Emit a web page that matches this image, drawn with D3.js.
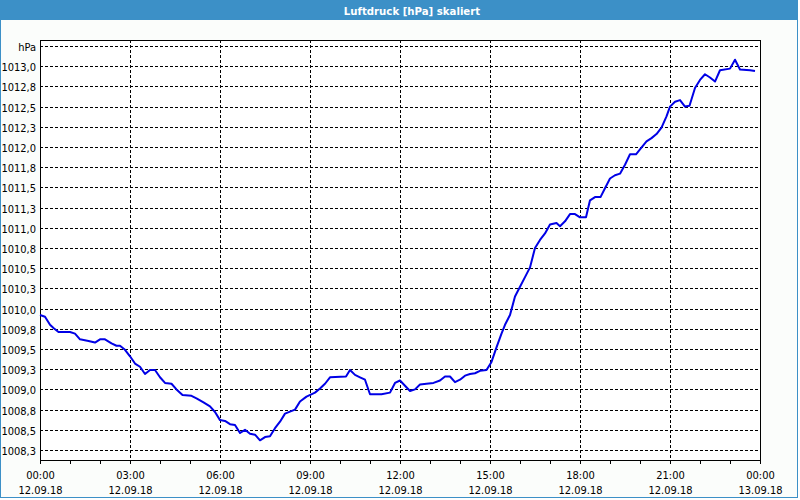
<!DOCTYPE html>
<html>
<head>
<meta charset="utf-8">
<script src="https://cdn.jsdelivr.net/npm/d3@7"></script>
<style>
  html, body { margin: 0; padding: 0; background: #ffffff; }
  svg { display: block; }
</style>
</head>
<body>
<svg id="chart" width="800" height="500"></svg>
<script>
// ---- data ----
const title = "Luftdruck [hPa] skaliert";
const unitLabel = "hPa";
// minutes after 12.09.18 00:00
const minutes = [0,10,20,27,37,60,70,80,97,110,120,130,143,153,160,170,180,190,200,210,220,230,240,250,263,273,285,303,313,327,340,350,360,370,380,390,400,410,420,430,440,450,460,470,480,490,510,520,533,550,560,570,580,612,620,630,640,650,660,683,700,710,720,740,750,760,773,787,800,810,820,830,840,850,860,870,880,893,903,913,923,930,940,950,960,970,980,990,1000,1010,1020,1033,1040,1050,1060,1070,1080,1092,1100,1110,1121,1130,1140,1150,1160,1170,1180,1192,1200,1213,1223,1233,1243,1253,1260,1270,1280,1290,1299,1310,1320,1330,1340,1350,1360,1380,1390,1400,1420,1430];
const pressure = [1009.92,1009.90,1009.80,1009.76,1009.71,1009.71,1009.69,1009.62,1009.60,1009.58,1009.62,1009.62,1009.57,1009.54,1009.54,1009.49,1009.41,1009.32,1009.28,1009.19,1009.24,1009.24,1009.15,1009.08,1009.07,1009.00,1008.93,1008.92,1008.89,1008.84,1008.79,1008.72,1008.62,1008.61,1008.57,1008.56,1008.46,1008.50,1008.45,1008.44,1008.37,1008.41,1008.42,1008.52,1008.60,1008.70,1008.75,1008.85,1008.91,1008.96,1009.01,1009.07,1009.15,1009.16,1009.24,1009.18,1009.15,1009.12,1008.94,1008.94,1008.96,1009.08,1009.11,1008.98,1009.00,1009.06,1009.07,1009.08,1009.11,1009.16,1009.16,1009.09,1009.12,1009.17,1009.19,1009.20,1009.23,1009.24,1009.34,1009.52,1009.69,1009.80,1009.92,1010.15,1010.27,1010.39,1010.51,1010.75,1010.85,1010.93,1011.04,1011.06,1011.02,1011.08,1011.17,1011.17,1011.13,1011.13,1011.34,1011.38,1011.38,1011.49,1011.61,1011.65,1011.67,1011.78,1011.91,1011.91,1011.97,1012.07,1012.11,1012.16,1012.24,1012.38,1012.50,1012.56,1012.58,1012.50,1012.51,1012.73,1012.83,1012.90,1012.86,1012.81,1012.95,1012.97,1013.08,1012.96,1012.95,1012.94];
const yTicks = [1008.25,1008.5,1008.75,1009.0,1009.25,1009.5,1009.75,1010.0,1010.25,1010.5,1010.75,1011.0,1011.25,1011.5,1011.75,1012.0,1012.25,1012.5,1012.75,1013.0];
const yUnitTick = 1013.25;
const xTickTimes = ["00:00","03:00","06:00","09:00","12:00","15:00","18:00","21:00","00:00"];
const xTickDates = ["12.09.18","12.09.18","12.09.18","12.09.18","12.09.18","12.09.18","12.09.18","12.09.18","13.09.18"];

// ---- setup ----
const svg = d3.select("#chart");
const W = 800, H = 500;
const blue = "#3c90c7";
const font = "Tahoma, 'DejaVu Sans Condensed', 'Liberation Sans', sans-serif";

const start = new Date(2018, 8, 12, 0, 0);
const end = new Date(2018, 8, 13, 0, 0);
const x = d3.scaleTime().domain([start, end]).range([40, 760]);
const y = d3.scaleLinear().domain([1008.25, 1013.25]).range([450, 46]);
const plotTop = 40, plotBottom = 460, plotLeft = 40, plotRight = 761;

// window background & frame
svg.append("rect").attr("x", 0).attr("y", 0).attr("width", W).attr("height", H).attr("fill", "#ffffff");
svg.append("rect").attr("x", 0.5).attr("y", 0.5).attr("width", 797).attr("height", 497)
  .attr("fill", "#fbfdfb").attr("stroke", blue).attr("stroke-width", 1);
svg.append("rect").attr("x", 0).attr("y", 0).attr("width", 798).attr("height", 20).attr("fill", blue);
svg.append("text").attr("x", 412).attr("y", 14.5).attr("text-anchor", "middle")
  .attr("fill", "#ffffff").attr("font-family", font).attr("font-weight", "bold").attr("font-size", 11.3)
  .text(title);

// plot area
svg.append("rect").attr("x", plotLeft + 0.5).attr("y", plotTop + 0.5)
  .attr("width", plotRight - plotLeft - 0.5).attr("height", plotBottom - plotTop)
  .attr("fill", "#ffffff").attr("stroke", "none");

const dash = "3,2";
// horizontal grid
const gridVals = yTicks.concat([yUnitTick]);
svg.append("g").selectAll("line").data(gridVals).join("line")
  .attr("x1", plotLeft).attr("x2", plotRight)
  .attr("y1", d => Math.round(y(d)) + 0.5).attr("y2", d => Math.round(y(d)) + 0.5)
  .attr("stroke", "#000").attr("stroke-width", 1).attr("stroke-dasharray", dash);

// vertical grid every 3 hours
const gridTimes = d3.range(1, 8).map(i => d3.timeHour.offset(start, i * 3));
svg.append("g").selectAll("line").data(gridTimes).join("line")
  .attr("x1", d => Math.round(x(d)) + 0.5).attr("x2", d => Math.round(x(d)) + 0.5)
  .attr("y1", plotTop).attr("y2", plotBottom)
  .attr("stroke", "#000").attr("stroke-width", 1).attr("stroke-dasharray", dash);

// frame of plot
svg.append("rect").attr("x", plotLeft + 0.5).attr("y", plotTop + 0.5)
  .attr("width", plotRight - plotLeft - 1).attr("height", plotBottom - plotTop)
  .attr("fill", "none").attr("stroke", "#000").attr("stroke-width", 1);

// hourly ticks below x axis
const hourTicks = d3.range(0, 25).map(i => d3.timeHour.offset(start, i));
svg.append("g").selectAll("line").data(hourTicks).join("line")
  .attr("x1", d => Math.round(x(d)) + 0.5).attr("x2", d => Math.round(x(d)) + 0.5)
  .attr("y1", plotBottom).attr("y2", plotBottom + 4)
  .attr("stroke", "#000").attr("stroke-width", 1);

// y labels
const fmt = d => d3.format(".1f")(d).replace(".", ",");
svg.append("g").selectAll("text").data(yTicks).join("text")
  .attr("x", 36).attr("y", d => Math.round(y(d)) + 4.5)
  .attr("text-anchor", "end").attr("font-family", font).attr("font-size", 11).attr("fill", "#000")
  .text(fmt);
svg.append("text").attr("x", 36).attr("y", Math.round(y(yUnitTick)) + 4.5)
  .attr("text-anchor", "end").attr("font-family", font).attr("font-size", 11).attr("fill", "#000")
  .text(unitLabel);

// x labels
const labelTimes = d3.range(0, 9).map(i => d3.timeHour.offset(start, i * 3));
const xl = svg.append("g");
labelTimes.forEach((t, i) => {
  xl.append("text").attr("x", x(t) + 0.5).attr("y", 479).attr("text-anchor", "middle")
    .attr("font-family", font).attr("font-size", 11).attr("fill", "#000").text(xTickTimes[i]);
  xl.append("text").attr("x", x(t) + 0.5).attr("y", 494).attr("text-anchor", "middle")
    .attr("font-family", font).attr("font-size", 11).attr("fill", "#000").text(xTickDates[i]);
});

// line
const data = minutes.map((m, i) => ({ t: d3.timeMinute.offset(start, m), v: pressure[i] }));
const line = d3.line().x(d => x(d.t)).y(d => y(d.v));
svg.append("path").datum(data).attr("d", line)
  .attr("fill", "none").attr("stroke", "#0000e6").attr("stroke-width", 2)
  .attr("stroke-linejoin", "round");
</script>
</body>
</html>
